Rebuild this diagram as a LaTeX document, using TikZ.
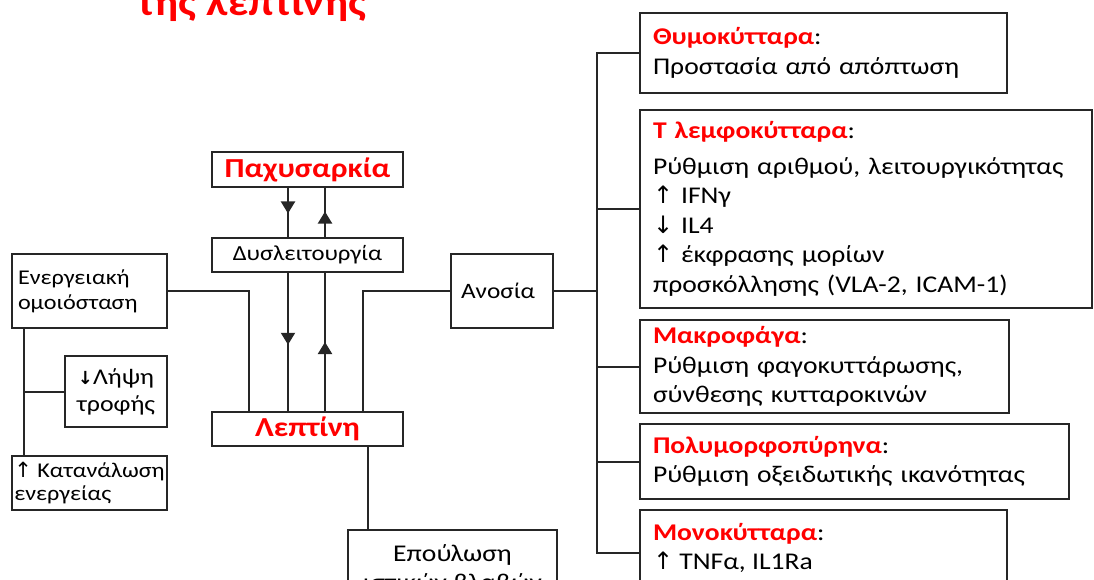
\documentclass[tikz,border=0pt]{standalone}
\usepackage{fontspec}
\setmainfont{Carlito}[FakeStretch=1.15]
\newfontfamily\sym{DejaVu Sans}
\usetikzlibrary{arrows.meta,decorations.markings}
\begin{document}
\begin{tikzpicture}[x=1pt,y=-1pt,
  box/.style={draw=black!85, line width=2pt, inner sep=0pt, anchor=north west},
  conn/.style={draw=black!85, line width=2pt},
  midarrow/.style={postaction={decorate}, decoration={markings, mark=at position #1 with {\arrow{Triangle[width=14pt,length=12pt]}}}},
]
\useasboundingbox (0,0) rectangle (1094,580);
\clip (0,0) rectangle (1094,580);
\newcommand\hr[1]{\textcolor{red}{\bfseries #1}}
\newcommand\up{{\sym\char"2191}}
\newcommand\dn{{\sym\char"2193}}
\fontsize{24pt}{29.5pt}\selectfont
% title
\node[anchor=base, text=red, font=\fontsize{38.5pt}{42pt}\selectfont\bfseries, inner sep=0pt] (title) at (252,16) {της λεπτίνης};
% centre column
\node[box, minimum width=191pt, minimum height=35pt, font=\fontsize{27.5pt}{30pt}\selectfont] (pax) at (211,151) {\hr{Παχυσαρκία}};
\node[box, minimum width=191pt, minimum height=34pt, font=\fontsize{21.5pt}{24pt}\selectfont] (dys) at (211,237) {Δυσλειτουργία};
\node[box, minimum width=191pt, minimum height=34pt, font=\fontsize{27.5pt}{30pt}\selectfont] (lep) at (211,411) {\hr{Λεπτίνη}};
\node[box, minimum width=102pt, minimum height=74pt, text width=82pt, inner xsep=10pt, align=left, font=\fontsize{22pt}{24pt}\selectfont] (ano) at (450,253) {Ανοσία};
\node[box, minimum width=209pt, minimum height=80pt, align=center, font=\fontsize{24pt}{29pt}\selectfont] (epo) at (347,529) {Επούλωση\\ιστικών βλαβών};
% left column
\node[box, minimum width=155pt, minimum height=74pt, text width=143pt, inner xsep=6pt, align=left, font=\fontsize{21pt}{25pt}\selectfont] (ene) at (11,253) {Ενεργειακή\\ομοιόσταση};
\node[box, minimum width=102pt, minimum height=71pt, align=center, font=\fontsize{22.5pt}{27pt}\selectfont] (lip) at (64,355) {{\sym\bfseries\fontsize{18pt}{18pt}\selectfont\dn}Λήψη\\τροφής};
\node[box, minimum width=155pt, minimum height=54pt, align=left, font=\fontsize{21pt}{23pt}\selectfont] (kat) at (11,455) {\up{} Κατανάλωση\\ενεργείας};
% right column
\node[box, minimum width=367pt, minimum height=80pt, text width=341pt, inner xsep=13pt, align=left] (thy) at (639,12) {\hr{Θυμοκύτταρα}:\\Προστασία από απόπτωση};
\node[box, minimum width=452pt, minimum height=198pt, text width=426pt, inner xsep=13pt, align=left] (tl) at (639,109) {\hr{Τ λεμφοκύτταρα}:\\[6pt]Ρύθμιση αριθμού, λειτουργικότητας\\\up{} IFNγ\\\dn{} IL4\\\up{} έκφρασης μορίων\\προσκόλλησης (VLA-2, ICAM-1)};
\node[box, minimum width=369pt, minimum height=93pt, text width=343pt, inner xsep=13pt, align=left] (mak) at (639,319) {\hr{Μακροφάγα}:\\Ρύθμιση φαγοκυττάρωσης,\\σύνθεσης κυτταροκινών};
\node[box, minimum width=429pt, minimum height=75pt, text width=403pt, inner xsep=13pt, align=left] (pol) at (639,423) {\hr{Πολυμορφοπύρηνα}:\\Ρύθμιση οξειδωτικής ικανότητας};
\node[box, minimum width=367pt, minimum height=86pt, inner xsep=13pt] (mon) at (639,509) {\parbox[c][60pt][t]{341pt}{\raggedright\hr{Μονοκύτταρα}:\\\up{} TNFα, IL1Ra}};
% coordinates
\coordinate (xa) at (288,0);
\coordinate (xb) at (325,0);
\coordinate (xc1) at (249,0);
\coordinate (xc2) at (363,0);
\coordinate (xe) at (368,0);
\coordinate (xl) at (24,0);
\coordinate (xt) at (597,0);
% connectors
\draw[conn, midarrow=0.52] (pax.south -| xa) -- (dys.north -| xa);
\draw[conn, midarrow=0.52] (dys.north -| xb) -- (pax.south -| xb);
\draw[conn, midarrow=0.52] (dys.south -| xa) -- (lep.north -| xa);
\draw[conn, midarrow=0.5] (lep.north -| xb) -- (dys.south -| xb);
\draw[conn] (ene.east) -- (ene.east -| xc1) -- (lep.north -| xc1);
\draw[conn] (ano.west) -- (ano.west -| xc2) -- (lep.north -| xc2);
\draw[conn] (lep.south -| xe) -- (epo.north -| xe);
\draw[conn] (ene.south -| xl) -- (kat.north -| xl);
\draw[conn] (lip.west) -- (lip.west -| xl);
\draw[conn] (ano.east) -- (ano.east -| xt);
\draw[conn] (thy.west) -- (thy.west -| xt) -- (mon.west -| xt) -- (mon.west);
\draw[conn] (tl.west) -- (tl.west -| xt);
\draw[conn] (mak.west) -- (mak.west -| xt);
\draw[conn] (pol.west) -- (pol.west -| xt);
\end{tikzpicture}
\end{document}
